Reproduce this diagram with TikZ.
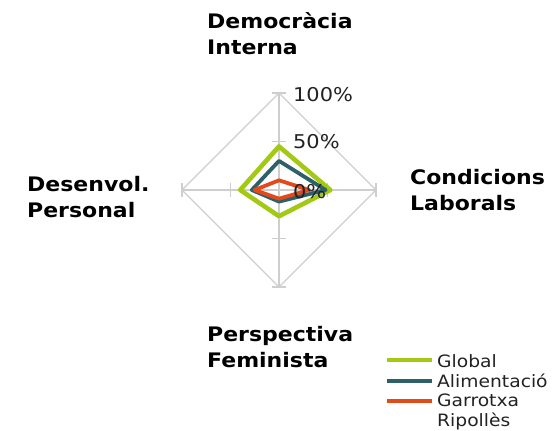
\documentclass[tikz,border=0pt]{standalone}
\usepackage{fontspec}
\setmainfont{DejaVu Sans}[FakeStretch=1.1]
\definecolor{globalgreen}{RGB}{163,201,20}
\definecolor{alimteal}{RGB}{46,96,106}
\definecolor{garrorange}{RGB}{226,74,26}
\definecolor{gridgray}{RGB}{206,206,206}
\definecolor{labelgray}{RGB}{34,34,34}

\begin{document}
\begin{tikzpicture}[x=1pt,y=-1pt,
    grid/.style={color=gridgray,line width=1.3pt},
    serie/.style={line width=3.8pt,line join=round},
    axistitle/.style={font=\bfseries\fontsize{20}{26}\selectfont,align=left,anchor=north west,inner sep=0pt},
    pct/.style={font=\fontsize{19}{20}\selectfont,text=labelgray,anchor=base west,inner sep=0pt},
    legtext/.style={font=\fontsize{17}{20}\selectfont,text=labelgray,align=left,anchor=north west,inner sep=0pt}]
  \useasboundingbox (0,0) rectangle (552,431);
  % grid
  \draw[grid] (279,93) -- (376,190) -- (279,287) -- (182,190) -- cycle;
  \draw[grid] (279,93) -- (279,287);
  \draw[grid] (182,190) -- (376,190);
  \draw[grid] (272,93) -- (286,93);
  \draw[grid] (272,141.5) -- (286,141.5);
  \draw[grid] (272,238.5) -- (286,238.5);
  \draw[grid] (272,287) -- (286,287);
  \draw[grid] (182,183) -- (182,197);
  \draw[grid] (230.5,183) -- (230.5,197);
  \draw[grid] (327.5,183) -- (327.5,197);
  \draw[grid] (376,183) -- (376,197);
  % series
  \draw[serie,color=globalgreen,line width=4.6pt]
  (279,146.4) -- (330.4,190) -- (279,216.2) -- (240.2,190) -- cycle;
  \draw[serie,color=alimteal]
  (279,160.9) -- (325.6,190) -- (279,201.6) -- (251.8,190) -- cycle;
  \draw[serie,color=garrorange]
  (279,180.3) -- (309.1,190) -- (279,198.7) -- (254.7,190) -- cycle;
  % scale
  \node[pct] (p100) at (293,101) {100\%};
  \node[pct] (p50) at (293,148) {50\%};
  \node[pct] (p0) at (293,198) {0\%};
  % titles
  \node[axistitle] (democracia) at (207,12) {Democràcia\\Interna};
  \node[axistitle] (condicions) at (410,169) {Condicions\\Laborals};
  \node[axistitle] (desenvol) at (27,176) {Desenvol.\\Personal};
  \node[axistitle] (perspectiva) at (207,326) {Perspectiva\\Feminista};
  % legend
  \node[legtext] (legglobal) at (437,354) {Global};
  \node[legtext] (legalim) at (437,374) {Alimentació};
  \node[legtext] (leggarr) at (437,394) {Garrotxa\\Ripollès};
  \draw[serie,color=globalgreen,line cap=butt] (387,360) -- (432,360);
  \draw[serie,color=alimteal,line cap=butt] (387,381) -- (432,381);
  \draw[serie,color=garrorange,line cap=butt] (387,401) -- (432,401);
\end{tikzpicture}
\end{document}
